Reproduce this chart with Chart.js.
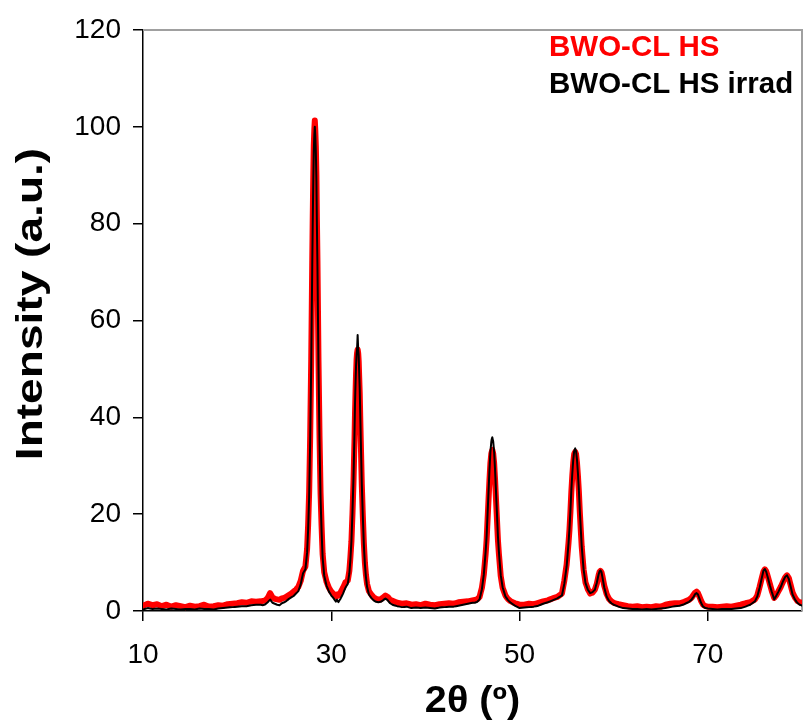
<!DOCTYPE html>
<html>
<head>
<meta charset="utf-8">
<script src="https://cdn.jsdelivr.net/npm/chart.js@4.4.0/dist/chart.umd.min.js"></script>
<style>
  html, body { margin: 0; padding: 0; background: #fff; }
  #wrap { position: relative; width: 803px; height: 724px; }
</style>
</head>
<body>
<div id="wrap"><canvas id="xrd"></canvas></div>
<script>
// 2theta positions (deg), denser around the reflections
const twoTheta = [
  10, 10.5, 11, 11.5, 12, 12.5, 13, 13.5, 14, 14.5, 15, 15.5, 16, 16.5, 17, 17.5, 18, 18.5, 19, 19.5, 20, 20.5, 21, 21.5, 22,
  22.5, 22.75, 23, 23.25, 23.5, 23.75, 24, 24.25, 24.5, 24.75, 25, 25.25, 25.5, 25.75, 26, 26.25, 26.5, 26.75,
  27, 27.25, 27.43, 27.54, 27.65, 27.76, 27.87, 27.98, 28.03, 28.09, 28.14, 28.2, 28.25, 28.3, 28.36, 28.42, 28.47, 28.53, 28.64, 28.75, 28.86, 28.97, 29.08, 29.25, 29.5, 29.75, 30, 30.25, 30.5, 30.6, 30.75, 31,
  31.25, 31.5, 31.75, 31.92, 32.03, 32.14, 32.25, 32.36, 32.47, 32.52, 32.58, 32.63, 32.69, 32.74, 32.8, 32.86, 32.91, 32.96, 33.02, 33.07, 33.13, 33.24, 33.35, 33.46, 33.57, 33.68, 33.8, 34, 34.25, 34.5, 34.75, 35, 35.25, 35.5, 35.75, 36, 36.25, 36.5,
  37, 37.5, 38, 38.5, 39, 39.5, 40, 40.5, 41, 41.5, 42, 42.5, 43, 43.5, 44, 44.5, 45,
  45.25, 45.5, 45.75, 46, 46.2, 46.4, 46.5, 46.6, 46.7, 46.8, 46.9, 47, 47.1, 47.2, 47.3, 47.4, 47.5, 47.6, 47.7, 47.8, 48, 48.2, 48.5, 48.75, 49, 49.5, 50,
  50.5, 51, 51.5, 52, 52.5, 53, 53.5, 54, 54.5,
  54.75, 55, 55.2, 55.3, 55.4, 55.5, 55.6, 55.7, 55.8, 55.9, 56, 56.1, 56.2, 56.3, 56.4, 56.5, 56.6, 56.8, 57, 57.25, 57.5, 57.75,
  58, 58.2, 58.4, 58.5, 58.6, 58.7, 58.8, 59, 59.25, 59.5, 59.75, 60,
  60.5, 61, 61.5, 62, 62.5, 63, 63.5, 64, 64.5, 65, 65.5, 66, 66.5,
  67, 67.5, 68, 68.25, 68.5, 68.65, 68.8, 68.95, 69.1, 69.3, 69.5, 69.75, 70,
  70.5, 71, 71.5, 72, 72.5, 73, 73.5,
  74, 74.5, 75, 75.25, 75.5, 75.75, 75.9, 76.05, 76.2, 76.4, 76.6, 76.8, 77.05, 77.25, 77.5, 77.75, 78, 78.2, 78.4, 78.6, 78.8, 79, 79.25, 79.5, 79.75, 80
];

// BWO-CL HS (red)
const intensityHS = [
  1.1, 1.5, 1.2, 1.4, 1.0, 1.3, 0.9, 1.2, 1.0, 0.8, 1.1, 0.9, 1.0, 1.3, 0.9, 1.0, 1.2, 1.1, 1.4, 1.5, 1.6, 1.8, 1.7, 2.0, 1.9,
  2.0, 2.1, 2.2, 2.7, 3.7, 2.8, 2.5, 2.4, 2.3, 2.6, 2.7, 3.0, 3.3, 3.6, 4.0, 4.4, 5.0, 6.2,
  8.3, 9.2, 12.8, 17.7, 24.6, 36.3, 52.0, 72.6, 81.4, 90.2, 96.1, 99.5, 101.3, 99.3, 95.9, 90.0, 81.2, 72.4, 51.8, 36.1, 24.4, 17.5, 11.8, 8.0, 6.0, 4.8, 4.0, 3.5, 3.0, 3.4, 3.2, 3.9,
  4.8, 5.9, 6.3, 8.3, 11.1, 14.4, 20.0, 26.6, 35.7, 40.8, 45.4, 48.9, 52.0, 53.3, 54.0, 53.2, 51.6, 48.5, 45.0, 40.4, 35.3, 26.2, 19.7, 14.0, 10.0, 7.5, 5.6, 4.1, 3.4, 2.8, 2.5, 2.4, 2.4, 2.8, 3.2, 2.9, 2.3, 2.1,
  1.7, 1.5, 1.6, 1.3, 1.4, 1.2, 1.5, 1.3, 1.2, 1.4, 1.5, 1.6, 1.5, 1.8, 1.9, 2.0, 2.2,
  2.3, 2.4, 2.9, 4.8, 7.5, 11.9, 14.7, 18.8, 22.9, 27.0, 30.5, 32.5, 33.3, 32.5, 30.5, 27.0, 22.9, 18.8, 14.7, 11.9, 7.2, 4.8, 3.2, 2.5, 2.1, 1.6, 1.3,
  1.3, 1.5, 1.4, 1.7, 2.0, 2.2, 2.6, 2.9, 3.6,
  6.2, 9.6, 14.1, 16.8, 20.4, 24.6, 27.9, 30.6, 32.4, 32.9, 32.4, 30.6, 27.9, 24.6, 20.4, 16.8, 13.3, 8.6, 5.9, 4.5, 3.6, 3.8,
  4.4, 5.6, 7.4, 8.1, 8.3, 8.0, 7.2, 5.2, 3.5, 2.5, 2.0, 1.7,
  1.4, 1.2, 1.0, 0.9, 1.0, 0.8, 0.9, 0.8, 1.0, 0.9, 1.3, 1.5, 1.6,
  1.6, 1.9, 2.3, 2.7, 3.4, 3.8, 4.0, 3.7, 3.0, 2.0, 1.3, 1.0, 0.9,
  0.9, 0.8, 0.9, 1.0, 0.9, 1.1, 1.3,
  1.6, 1.8, 2.4, 3.2, 5.0, 7.0, 8.1, 8.6, 8.2, 6.9, 5.5, 4.1, 2.7, 3.2, 4.1, 5.0, 6.1, 6.9, 7.4, 6.8, 5.3, 3.8, 2.8, 2.1, 1.8, 1.7
];

// BWO-CL HS irrad (black)
const intensityIrrad = [
  0.3, 0.6, 0.4, 0.5, 0.4, 0.3, 0.5, 0.4, 0.3, 0.4, 0.4, 0.3, 0.5, 0.4, 0.4, 0.3, 0.5, 0.6, 0.7, 0.8, 0.9, 1.0, 1.0, 1.2, 1.3,
  1.3, 1.2, 1.4, 1.8, 2.4, 1.7, 1.5, 1.3, 1.2, 1.6, 1.8, 2.1, 2.5, 2.8, 3.1, 3.6, 4.1, 5.5,
  7.8, 8.6, 12.0, 16.8, 23.6, 35.3, 51.0, 71.5, 80.3, 89.0, 94.9, 98.4, 100.0, 98.2, 94.7, 88.8, 80.0, 71.2, 50.6, 35.0, 23.3, 16.4, 11.0, 7.3, 5.2, 4.0, 3.2, 2.6, 1.9, 2.4, 1.8, 2.6,
  3.6, 4.8, 5.6, 7.8, 10.6, 14.4, 20.5, 27.6, 37.4, 42.9, 47.3, 50.6, 53.0, 54.2, 57.0, 54.0, 52.8, 49.5, 46.0, 41.2, 35.8, 26.4, 19.5, 13.6, 9.6, 7.0, 5.0, 3.4, 2.7, 2.2, 1.9, 1.8, 1.9, 2.2, 2.6, 2.2, 1.6, 1.3,
  1.0, 0.8, 0.9, 0.6, 0.7, 0.6, 0.7, 0.6, 0.5, 0.7, 0.8, 0.9, 0.9, 1.1, 1.3, 1.5, 1.7,
  1.7, 1.9, 2.4, 4.5, 7.5, 12.4, 15.5, 20.0, 24.5, 29.0, 32.8, 35.0, 35.9, 35.0, 32.8, 29.0, 24.5, 20.0, 15.5, 12.4, 7.4, 4.9, 3.0, 2.3, 1.8, 1.1, 0.6,
  0.7, 0.8, 0.9, 1.1, 1.5, 1.8, 2.2, 2.6, 3.2,
  5.6, 9.2, 14.0, 17.0, 20.7, 25.0, 28.4, 31.2, 33.0, 33.6, 33.0, 31.2, 28.4, 25.0, 20.7, 17.0, 13.4, 8.6, 5.8, 4.4, 3.7, 3.9,
  4.4, 5.8, 7.6, 8.2, 8.4, 8.0, 7.0, 4.8, 3.0, 2.1, 1.6, 1.3,
  0.9, 0.6, 0.5, 0.4, 0.4, 0.3, 0.4, 0.3, 0.4, 0.5, 0.6, 0.8, 1.0,
  1.1, 1.4, 1.9, 2.3, 3.0, 3.5, 3.7, 3.4, 2.6, 1.6, 0.9, 0.6, 0.5,
  0.4, 0.3, 0.4, 0.4, 0.4, 0.5, 0.6,
  0.9, 1.3, 2.0, 3.0, 4.8, 7.0, 8.3, 8.7, 8.1, 6.7, 5.2, 3.9, 2.4, 3.1, 4.0, 5.0, 6.2, 7.0, 7.4, 6.6, 5.0, 3.4, 2.4, 1.7, 1.3, 1.1
];

const xTicks = [10, 30, 50, 70];
const yTicks = [0, 20, 40, 60, 80, 100, 120];
const seriesNames = ['BWO-CL HS', 'BWO-CL HS irrad'];
const seriesColors = ['#ff0000', '#000000'];
const xTitle = '2θ (º)';
const yTitle = 'Intensity (a.u.)';

const FONT = '"Liberation Sans", Arial, Helvetica, sans-serif';
Chart.defaults.font.family = FONT;
Chart.defaults.color = '#000';

function toPoints(ys) {
    return twoTheta.map((x, i) => ({ x: x, y: ys[i] }));
}

// grey outline on top/right of plot area, like the Excel frame
const plotFrame = {
    id: 'plotFrame',
    beforeDatasetsDraw(chart) {
        const { ctx, chartArea: a } = chart;
        ctx.save();
        ctx.strokeStyle = '#a0a0a0';
        ctx.lineWidth = 2;
        ctx.beginPath();
        ctx.moveTo(a.left, a.top);
        ctx.lineTo(a.right, a.top);
        ctx.lineTo(a.right, a.bottom);
        ctx.stroke();
        ctx.restore();
    }
};

// legend is plain coloured text in the top right corner,
// axis titles are drawn here too because the original text is stretched
const textLayer = {
    id: 'textLayer',
    afterDraw(chart) {
        const { ctx, chartArea: a } = chart;
        ctx.save();
        ctx.font = 'bold 29.5px ' + FONT;
        ctx.textBaseline = 'alphabetic';
        ctx.textAlign = 'left';
        seriesNames.forEach((name, i) => {
            ctx.fillStyle = seriesColors[i];
            ctx.fillText(name, 549, 56 + i * 37);
        });

        ctx.fillStyle = '#000';
        ctx.font = 'bold 36px ' + FONT;
        ctx.textAlign = 'center';
        ctx.textBaseline = 'middle';

        ctx.save();
        ctx.translate((a.left + a.right) / 2, 702);
        ctx.scale(1.1, 1);
        ctx.fillText(xTitle, 0, 0);
        ctx.restore();

        ctx.save();
        ctx.translate(32, 304);
        ctx.rotate(-Math.PI / 2);
        ctx.scale(1.28, 1);
        ctx.fillText(yTitle, 0, 0);
        ctx.restore();

        ctx.restore();
    }
};

const lineStyle = {
    showLine: true,
    pointRadius: 0,
    borderJoinStyle: 'round',
    borderCapStyle: 'round',
    tension: 0.001 // keeps Chart.js off its per-pixel fast path
};

new Chart(document.getElementById('xrd'), {
    type: 'scatter',
    data: {
        datasets: [
            { ...lineStyle, label: seriesNames[1], data: toPoints(intensityIrrad), borderColor: seriesColors[1], borderWidth: 2 },
            { ...lineStyle, label: seriesNames[0], data: toPoints(intensityHS), borderColor: seriesColors[0], borderWidth: 6 }
        ]
    },
    options: {
        responsive: true,
        maintainAspectRatio: false,
        animation: false,
        layout: { padding: { top: 30, right: 1, left: 0, bottom: 0 } },
        plugins: {
            legend: { display: false },
            tooltip: { enabled: false }
        },
        scales: {
            x: {
                type: 'linear',
                min: 10,
                max: 80,
                afterBuildTicks: axis => { axis.ticks = xTicks.map(v => ({ value: v })); },
                afterFit: axis => { axis.height = 113; },
                grid: { display: true, drawOnChartArea: false, drawTicks: true, tickLength: 10, color: '#000', lineWidth: 1.5 },
                border: { display: true, color: '#000', width: 1.5 },
                ticks: { font: { size: 28 }, padding: 17, maxRotation: 0 },
                title: { display: false }
            },
            y: {
                min: 0,
                max: 120,
                afterBuildTicks: axis => { axis.ticks = yTicks.map(v => ({ value: v })); },
                afterFit: axis => { axis.width = 143; },
                grid: { display: true, drawOnChartArea: false, drawTicks: true, tickLength: 10, color: '#000', lineWidth: 1.5 },
                border: { display: true, color: '#000', width: 1.5 },
                ticks: { font: { size: 28 }, padding: 12 },
                title: { display: false }
            }
        }
    },
    plugins: [plotFrame, textLayer]
});
</script>
</body>
</html>
